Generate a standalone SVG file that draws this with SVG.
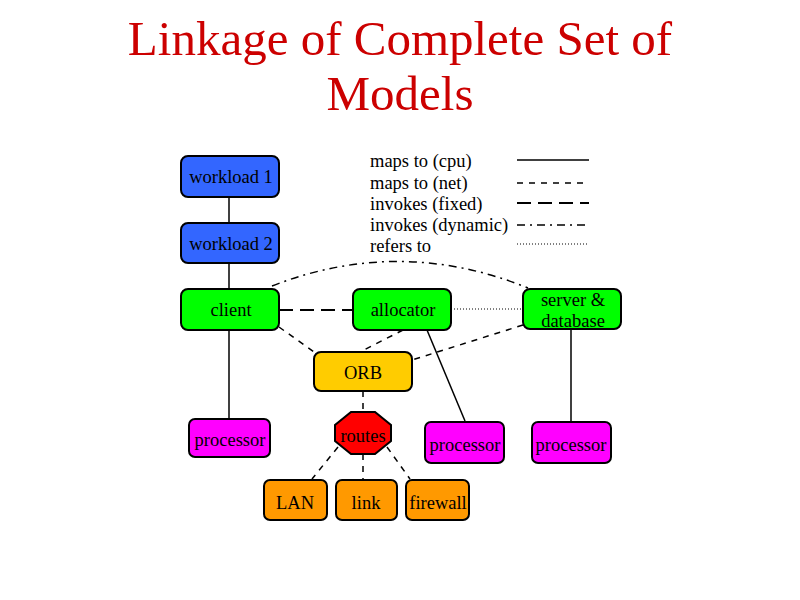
<svg xmlns="http://www.w3.org/2000/svg" width="800" height="600" viewBox="0 0 800 600">
<style>
.t{font-family:"Liberation Serif","Times New Roman",serif;fill:#000}
.n{font-size:18.5px;text-anchor:middle}
.lg{font-size:18.5px}
.box{stroke:#000;stroke-width:2}
.c{fill:none;stroke:#000;stroke-width:1.5}
.solid{}
.net{stroke-dasharray:6,6}
.fixed{stroke-dasharray:14,7;stroke-width:2}
.dyn{stroke-dasharray:8,5,2,5}
.ref{stroke-dasharray:1,2;stroke-width:1}
</style>
<rect width="800" height="600" fill="#fff"/>
<g id="title">
<text class="t" x="400" y="55" font-size="49" text-anchor="middle" style="fill:#cc0000">Linkage of Complete Set of</text>
<text class="t" x="400" y="110" font-size="49" text-anchor="middle" style="fill:#cc0000">Models</text>
</g>
<g id="legend">
<text class="t lg" x="370" y="167">maps to (cpu)</text>
<text class="t lg" x="370" y="189">maps to (net)</text>
<text class="t lg" x="370" y="210">invokes (fixed)</text>
<text class="t lg" x="370" y="231">invokes (dynamic)</text>
<text class="t lg" x="370" y="252">refers to</text>
<line class="c solid" x1="517" y1="160" x2="589" y2="160"/>
<line class="c net" x1="517" y1="183" x2="589" y2="183"/>
<line class="c fixed" x1="517" y1="203" x2="589" y2="203"/>
<line class="c dyn" x1="517" y1="225" x2="589" y2="225"/>
<line class="c ref" x1="517" y1="244" x2="589" y2="244"/>
</g>
<g id="connectors">
<line class="c" x1="229" y1="197" x2="229" y2="223"/>
<line class="c" x1="229" y1="263" x2="229" y2="288"/>
<line class="c" x1="229" y1="330" x2="229" y2="418"/>
<line class="c fixed" x1="279" y1="310" x2="353" y2="310"/>
<line class="c ref" x1="451" y1="309" x2="523" y2="309"/>
<path class="c dyn" d="M272,286 Q400,236 528,288"/>
<line class="c net" x1="279" y1="327" x2="314" y2="352"/>
<line class="c net" x1="403" y1="330" x2="360" y2="352"/>
<line class="c net" x1="523" y1="325" x2="412" y2="360"/>
<line class="c" x1="427" y1="330" x2="465" y2="421"/>
<line class="c" x1="571" y1="329" x2="571" y2="421"/>
<line class="c net" x1="363" y1="391" x2="363" y2="412"/>
<line class="c net" x1="338" y1="447" x2="312" y2="479"/>
<line class="c net" x1="363" y1="454" x2="363" y2="479"/>
<line class="c net" x1="387" y1="447" x2="410" y2="479"/>
</g>
<g id="workload1"><rect class="box" x="181" y="156" width="98" height="41" rx="7" fill="#3366ff"/><text class="t n" x="231" y="183">workload 1</text></g>
<g id="workload2"><rect class="box" x="181" y="223" width="98" height="40" rx="7" fill="#3366ff"/><text class="t n" x="231" y="250">workload 2</text></g>
<g id="client"><rect class="box" x="181" y="289" width="98" height="41" rx="7" fill="#00ff00"/><text class="t n" x="231" y="316">client</text></g>
<g id="allocator"><rect class="box" x="353" y="289" width="98" height="41" rx="7" fill="#00ff00"/><text class="t n" x="403" y="316">allocator</text></g>
<g id="server"><rect class="box" x="523" y="289" width="98" height="40" rx="7" fill="#00ff00"/><text class="t n" x="573" y="306">server &amp;</text><text class="t n" x="573" y="327">database</text></g>
<g id="orb"><rect class="box" x="314" y="352" width="98" height="39" rx="7" fill="#ffcc00"/><text class="t n" x="363" y="379">ORB</text></g>
<g id="processor1"><rect class="box" x="189" y="419" width="81" height="38" rx="6" fill="#ff00ff"/><text class="t n" x="230" y="446">processor</text></g>
<g id="routes"><polygon class="box" points="351,412 375,412 391,425 391,441 375,454 351,454 335,441 335,425" fill="#ff0000"/><text class="t n" x="363" y="442">routes</text></g>
<g id="processor2"><rect class="box" x="425" y="422" width="79" height="41" rx="6" fill="#ff00ff"/><text class="t n" x="465" y="451">processor</text></g>
<g id="processor3"><rect class="box" x="532" y="422" width="79" height="41" rx="6" fill="#ff00ff"/><text class="t n" x="571" y="451">processor</text></g>
<g id="lan"><rect class="box" x="264" y="480" width="63" height="40" rx="6" fill="#ff9900"/><text class="t n" x="295" y="509">LAN</text></g>
<g id="link"><rect class="box" x="336" y="480" width="61" height="40" rx="6" fill="#ff9900"/><text class="t n" x="366" y="509">link</text></g>
<g id="firewall"><rect class="box" x="406" y="480" width="63" height="40" rx="6" fill="#ff9900"/><text class="t n" x="438" y="509">firewall</text></g>
</svg>
